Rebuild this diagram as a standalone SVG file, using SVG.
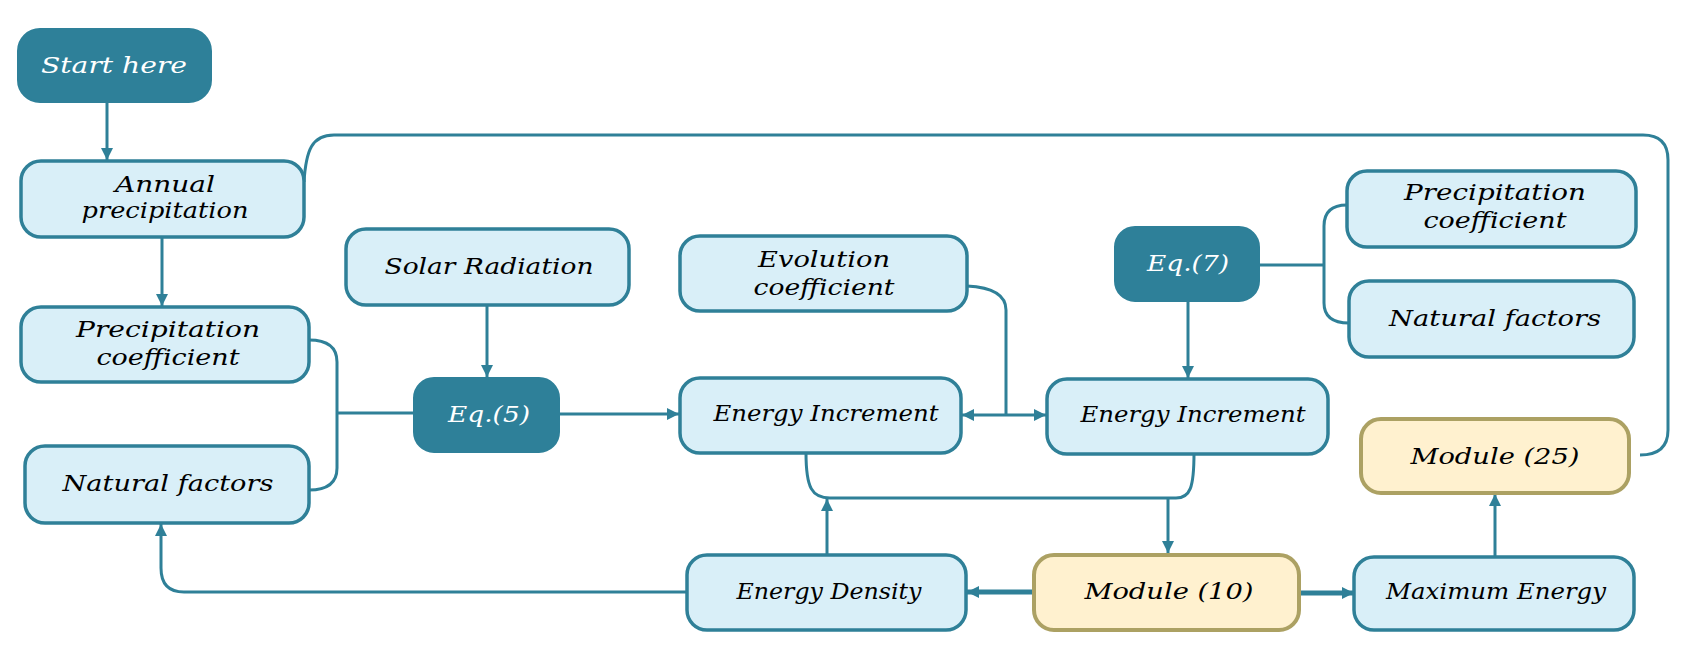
<svg xmlns="http://www.w3.org/2000/svg" width="1690" height="649" viewBox="0 0 1690 649">
<style>
.box{fill:#d9eff8;stroke:#2f8098;stroke-width:3.5}
.dark{fill:#2e8099;stroke:#2e8099;stroke-width:2}
.mod{fill:#fff1cf;stroke:#aca163;stroke-width:4}
.t{font-family:"DejaVu Serif","Liberation Serif",serif;font-style:italic;font-size:22px;fill:#000;text-anchor:middle}
.w{fill:#fff}
.c{fill:none;stroke:#2f8098;stroke-width:3}
.thick{stroke-width:5}
</style>
<defs>
<marker id="ah" markerUnits="userSpaceOnUse" markerWidth="14" markerHeight="14" refX="12" refY="6" orient="auto">
<path d="M0,0 L12,6 L0,12 z" fill="#2f8098"/>
</marker>
</defs>
<rect width="1690" height="649" fill="#fff"/>
<g id="connectors">
<path class="c" d="M107,102 V160" marker-end="url(#ah)"/>
<path class="c" d="M162,237 V306" marker-end="url(#ah)"/>
<path class="c" d="M304,182 C306,150 312,135 334,135 H1643 Q1668,135 1668,160 V430 Q1668,455 1640,455"/>
<path class="c" d="M309,340 Q337,340 337,362 V468 Q337,490 309,490 M337,413 H414"/>
<path class="c" d="M487,305 V377" marker-end="url(#ah)"/>
<path class="c" d="M559,414 H679" marker-end="url(#ah)"/>
<path class="c" d="M967,286 Q1006,288 1006,310 V415"/>
<path class="c" d="M1006,415 H962" marker-end="url(#ah)"/>
<path class="c" d="M1006,415 H1046" marker-end="url(#ah)"/>
<path class="c" d="M1259,265 H1324 M1347,205 Q1324,205 1324,226 V303 Q1324,323 1349,323"/>
<path class="c" d="M1188,301 V378" marker-end="url(#ah)"/>
<path class="c" d="M806,453 C806,488 812,498 830,498 H1176 C1190,498 1194,488 1194,453"/>
<path class="c" d="M827,554 V499" marker-end="url(#ah)"/>
<path class="c" d="M1168,498 V553" marker-end="url(#ah)"/>
<path class="c thick" d="M1034,592 H967" marker-end="url(#ah)"/>
<path class="c thick" d="M1299,593 H1354" marker-end="url(#ah)"/>
<path class="c" d="M687,592 H184 Q161,592 161,568 V524" marker-end="url(#ah)"/>
<path class="c" d="M1495,557 V494" marker-end="url(#ah)"/>
</g>
<g id="start"><rect class="dark" x="18" y="29" width="193" height="73" rx="22"/><text class="t w" x="114" y="73" font-size="25" textLength="146" lengthAdjust="spacingAndGlyphs">Start  here</text></g>
<g id="annual"><rect class="box" x="21" y="161" width="283" height="76" rx="20"/><text class="t" x="165" y="192" textLength="100" lengthAdjust="spacingAndGlyphs">Annual</text><text class="t" x="165" y="218" textLength="167" lengthAdjust="spacingAndGlyphs">precipitation</text></g>
<g id="precip1"><rect class="box" x="21" y="307" width="288" height="75" rx="20"/><text class="t" x="168" y="337" textLength="184" lengthAdjust="spacingAndGlyphs">Precipitation</text><text class="t" x="168" y="365" textLength="143" lengthAdjust="spacingAndGlyphs">coefficient</text></g>
<g id="natural1"><rect class="box" x="25" y="446" width="284" height="77" rx="20"/><text class="t" x="168" y="491" font-size="23" textLength="211" lengthAdjust="spacingAndGlyphs">Natural factors</text></g>
<g id="solar"><rect class="box" x="346" y="229" width="283" height="76" rx="20"/><text class="t" x="489" y="274" textLength="209" lengthAdjust="spacingAndGlyphs">Solar Radiation</text></g>
<g id="eq5"><rect class="dark" x="414" y="378" width="145" height="74" rx="20"/><text class="t w" x="489" y="422" font-size="23" textLength="82" lengthAdjust="spacingAndGlyphs">Eq.(5)</text></g>
<g id="evolution"><rect class="box" x="680" y="236" width="287" height="75" rx="20"/><text class="t" x="824" y="267" textLength="132" lengthAdjust="spacingAndGlyphs">Evolution</text><text class="t" x="824" y="295" textLength="141" lengthAdjust="spacingAndGlyphs">coefficient</text></g>
<g id="inc1"><rect class="box" x="680" y="378" width="281" height="75" rx="20"/><text class="t" x="826" y="421" textLength="225" lengthAdjust="spacingAndGlyphs">Energy Increment</text></g>
<g id="eq7"><rect class="dark" x="1115" y="227" width="144" height="74" rx="20"/><text class="t w" x="1188" y="271" font-size="23" textLength="82" lengthAdjust="spacingAndGlyphs">Eq.(7)</text></g>
<g id="inc2"><rect class="box" x="1047" y="379" width="281" height="75" rx="20"/><text class="t" x="1193" y="422" textLength="225" lengthAdjust="spacingAndGlyphs">Energy Increment</text></g>
<g id="precip2"><rect class="box" x="1347" y="171" width="289" height="76" rx="20"/><text class="t" x="1495" y="200" textLength="182" lengthAdjust="spacingAndGlyphs">Precipitation</text><text class="t" x="1495" y="228" textLength="143" lengthAdjust="spacingAndGlyphs">coefficient</text></g>
<g id="natural2"><rect class="box" x="1349" y="281" width="285" height="76" rx="20"/><text class="t" x="1495" y="326" font-size="23" textLength="212" lengthAdjust="spacingAndGlyphs">Natural factors</text></g>
<g id="mod25"><rect class="mod" x="1361" y="419" width="268" height="74" rx="20"/><text class="t" x="1495" y="464" font-size="24" textLength="169" lengthAdjust="spacingAndGlyphs">Module (25)</text></g>
<g id="density"><rect class="box" x="687" y="555" width="279" height="75" rx="20"/><text class="t" x="829" y="599" font-size="20" textLength="185" lengthAdjust="spacingAndGlyphs">Energy Density</text></g>
<g id="mod10"><rect class="mod" x="1034" y="555" width="265" height="75" rx="20"/><text class="t" x="1169" y="599" font-size="24" textLength="169" lengthAdjust="spacingAndGlyphs">Module (10)</text></g>
<g id="maxenergy"><rect class="box" x="1354" y="557" width="280" height="73" rx="20"/><text class="t" x="1496" y="599" font-size="20" textLength="220" lengthAdjust="spacingAndGlyphs">Maximum Energy</text></g>
</svg>
